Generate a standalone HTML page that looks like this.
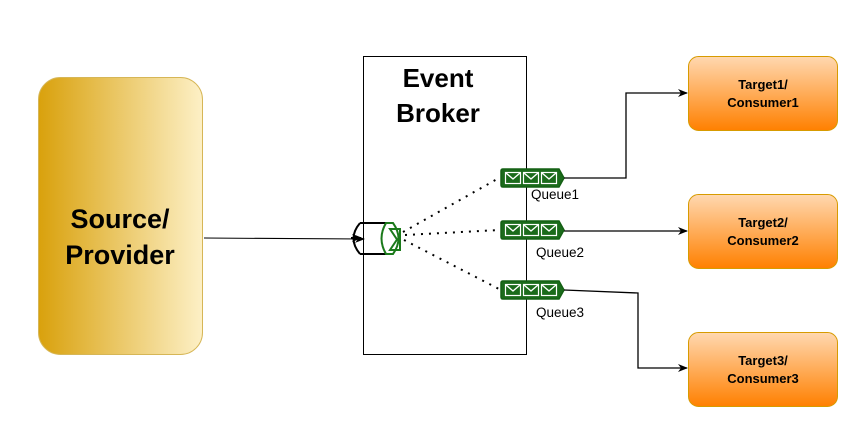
<!DOCTYPE html>
<html><head><style>
body{margin:0;background:#fff;}
svg{display:block;font-family:"Liberation Sans",Arial,sans-serif;}
</style></head><body>
<svg width="865" height="426" viewBox="0 0 865 426" xmlns="http://www.w3.org/2000/svg">
<defs>
<linearGradient id="src" x1="0" x2="1" y1="0" y2="0">
<stop offset="0" stop-color="#d9a10c"/><stop offset="1" stop-color="#fdf0c6"/></linearGradient>
<linearGradient id="tg" x1="0" x2="0" y1="0" y2="1">
<stop offset="0" stop-color="#ffd8b0"/><stop offset="1" stop-color="#ff8000"/></linearGradient>
<marker id="ar" markerWidth="10" markerHeight="8" refX="9" refY="4" orient="auto" markerUnits="userSpaceOnUse">
<path d="M0,0 L10,4 L0,8 L3,4 Z" fill="#000"/></marker>
<g id="q">
<path d="M0,1 Q0,-1 2,-1 L58,-1 L63,8 L58,17 L2,17 Q0,17 0,15 Z" fill="#1b6b1b" stroke="#146014" stroke-width="1.5"/>
<g fill="#1b6b1b" stroke="#fff" stroke-width="1.2">
<rect x="4.5" y="2.5" width="15" height="11"/><rect x="22.5" y="2.5" width="15" height="11"/><rect x="40.5" y="2.5" width="15" height="11"/>
</g>
<g fill="none" stroke="#fff" stroke-width="1.4"><path d="M5,3 L12,9 L19,3"/><path d="M23,3 L30,9 L37,3"/><path d="M41,3 L48,9 L55,3"/></g>
</g>
</defs>
<rect x="38.5" y="77.5" width="164" height="277" rx="22" fill="url(#src)" stroke="#d6b656"/>
<text x="120" y="228" font-size="27" font-weight="bold" text-anchor="middle">Source/</text>
<text x="120" y="264" font-size="27" font-weight="bold" text-anchor="middle">Provider</text>
<rect x="363.5" y="56.5" width="163" height="298" fill="#fff" stroke="#000"/>
<text x="438" y="87" font-size="26" font-weight="bold" text-anchor="middle">Event</text>
<text x="438" y="122" font-size="26" font-weight="bold" text-anchor="middle">Broker</text>
<line x1="204" y1="238" x2="364" y2="239" stroke="#000" marker-end="url(#ar)"/>
<!-- exchange -->
<path d="M360,223 L389,223 M360,254 L389,254 M360,223 Q347,238.5 360,254" fill="none" stroke="#000" stroke-width="2"/>
<path d="M386,223 L393,223 Q404,238.5 393,254 L386,254 Q377,238.5 386,223 Z" fill="#fff" stroke="#1b7a1b" stroke-width="2"/>
<path d="M390,229 L400,229 L400,250 L390,250 L397,239.5 Z" fill="none" stroke="#1b7a1b" stroke-width="2"/>
<path d="M351,238 L361,238" stroke="#000" stroke-width="2" marker-end="url(#ar)"/>
<g stroke="#000" stroke-width="2" stroke-dasharray="2,6" fill="none">
<line x1="403" y1="232" x2="499" y2="178"/>
<line x1="405" y1="235" x2="499" y2="230"/>
<line x1="404" y1="240" x2="499" y2="289"/>
</g>
<use href="#q" x="501" y="170"/>
<use href="#q" x="501" y="222"/>
<use href="#q" x="501" y="282"/>
<g font-size="13.5" fill="#000">
<text x="531" y="199">Queue1</text>
<text x="536" y="257">Queue2</text>
<text x="536" y="317">Queue3</text>
</g>
<g stroke="#000" fill="none" stroke-width="1.3">
<polyline points="564,178 626,178 626,93 687,93" marker-end="url(#ar)"/>
<polyline points="564,231 687,231" marker-end="url(#ar)"/>
<polyline points="564,290 638,293 638,368 687,368" marker-end="url(#ar)"/>
</g>
<g stroke="#d79b00" fill="url(#tg)">
<rect x="688.5" y="56.5" width="149" height="74" rx="10"/>
<rect x="688.5" y="194.5" width="149" height="74" rx="10"/>
<rect x="688.5" y="332.5" width="149" height="74" rx="10"/>
</g>
<g font-size="13" font-weight="bold" text-anchor="middle">
<text x="763" y="89">Target1/</text><text x="763" y="107">Consumer1</text>
<text x="763" y="227">Target2/</text><text x="763" y="245">Consumer2</text>
<text x="763" y="365">Target3/</text><text x="763" y="383">Consumer3</text>
</g>
</svg>
</body></html>
